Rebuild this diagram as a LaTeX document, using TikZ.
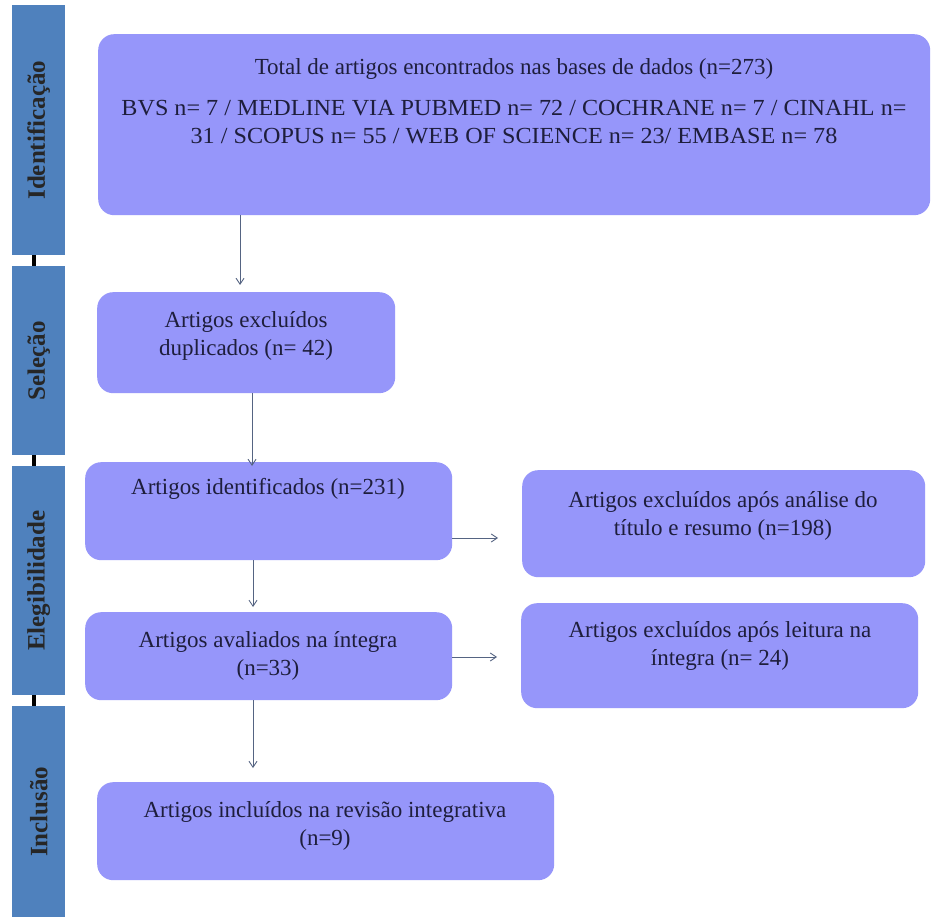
\documentclass[tikz,border=0pt]{standalone}
\usepackage{fontspec}
\setmainfont{Liberation Serif}
\usetikzlibrary{arrows.meta}
\definecolor{barblue}{RGB}{79,129,189}
\definecolor{boxfill}{RGB}{150,150,250}
\definecolor{txtcol}{RGB}{30,30,60}
\definecolor{arrcol}{RGB}{85,100,130}
\tikzset{
  flowbox/.style={draw=none, fill=boxfill, rounded corners=16pt, anchor=north west, inner sep=0pt},
  flowtxt/.style={text=txtcol, align=center, font=\fontsize{23}{28}\selectfont, inner sep=0pt, anchor=north},
  phasebar/.style={fill=barblue, draw=none, anchor=north west, inner sep=0pt, minimum width=53pt},
  phasetxt/.style={rotate=90, text=black!85, font=\bfseries\fontsize{25}{25}\selectfont},
  flowarr/.style={draw=arrcol, line width=0.9pt, -{Straight Barb[length=6pt,width=8pt]}},
  tick/.style={draw=black, line width=4pt}
}
\begin{document}
\begin{tikzpicture}[x=1pt,y=-1pt]
\useasboundingbox (0,0) rectangle (932,917);
\fill[white] (0,0) rectangle (932,917);

% phase bars
\node[phasebar, minimum height=250pt] (p1) at (12,5) {};
\node[phasebar, minimum height=189pt] (p2) at (12,266) {};
\node[phasebar, minimum height=229pt] (p3) at (12,466) {};
\node[phasebar, minimum height=211pt] (p4) at (12,706) {};
\node[phasetxt] (p1t) at (p1.center) {Identificação};
\node[phasetxt] (p2t) at (p2.center) {Seleção};
\node[phasetxt] (p3t) at (p3.center) {Elegibilidade};
\node[phasetxt] (p4t) at (p4.center) {Inclusão};
\draw[tick] (p1.south) ++(-5pt,0) coordinate (t1a) -- (t1a |- p2.north);
\draw[tick] (p2.south) ++(-5pt,0) coordinate (t2a) -- (t2a |- p3.north);
\draw[tick] (p3.south) ++(-5pt,0) coordinate (t3a) -- (t3a |- p4.north);

% boxes
\node[flowbox, minimum width=832pt, minimum height=181pt] (b1) at (98,34) {};
\node[flowtxt] (b1t) at (514,58) {Total de artigos encontrados nas bases de dados (n=273)};
\node[flowtxt, xscale=1.05] (b1u) at (514,100) {BVS n= 7 / MEDLINE VIA PUBMED n= 72 / COCHRANE n= 7 / CINAHL n=\\31 / SCOPUS n= 55 / WEB OF SCIENCE n= 23/ EMBASE n= 78};

\node[flowbox, minimum width=298pt, minimum height=101pt] (b2) at (97,292) {};
\node[flowtxt] (b2t) at (246,311) {Artigos excluídos\\duplicados (n= 42)};

\node[flowbox, minimum width=367pt, minimum height=98pt] (b3) at (85,462) {};
\node[flowtxt] (b3t) at (268,478) {Artigos identificados (n=231)};

\node[flowbox, minimum width=403pt, minimum height=107pt] (b4) at (522,470) {};
\node[flowtxt] (b4t) at (723,491) {Artigos excluídos após análise do\\título e resumo (n=198)};

\node[flowbox, minimum width=367pt, minimum height=88pt] (b5) at (85,612) {};
\node[flowtxt] (b5t) at (268,631) {Artigos avaliados na íntegra\\(n=33)};

\node[flowbox, minimum width=397pt, minimum height=105pt] (b6) at (521,603) {};
\node[flowtxt] (b6t) at (720,621) {Artigos excluídos após leitura na\\íntegra (n= 24)};

\node[flowbox, minimum width=457pt, minimum height=98pt] (b7) at (97,782) {};
\node[flowtxt] (b7t) at (325,801) {Artigos incluídos na revisão integrativa\\(n=9)};

% connectors
\coordinate (a1s) at (240,215);
\draw[flowarr] (a1s) -- ([yshift=7pt]a1s |- b2.north);
\coordinate (a2s) at (252,393);
\draw[flowarr] (a2s) -- ([yshift=-4pt]a2s |- b3.north);
\coordinate (a3s) at (253,560);
\draw[flowarr] (a3s) -- ([yshift=5pt]a3s |- b5.north);
\coordinate (a4s) at (253,700);
\draw[flowarr] (a4s) -- ([yshift=14pt]a4s |- b7.north);
\coordinate (h1s) at (452,538);
\draw[flowarr] (h1s) -- ([xshift=-24pt]h1s -| b4.west);
\coordinate (h2s) at (452,657);
\draw[flowarr] (h2s) -- ([xshift=-24pt]h2s -| b6.west);
\end{tikzpicture}
\end{document}
